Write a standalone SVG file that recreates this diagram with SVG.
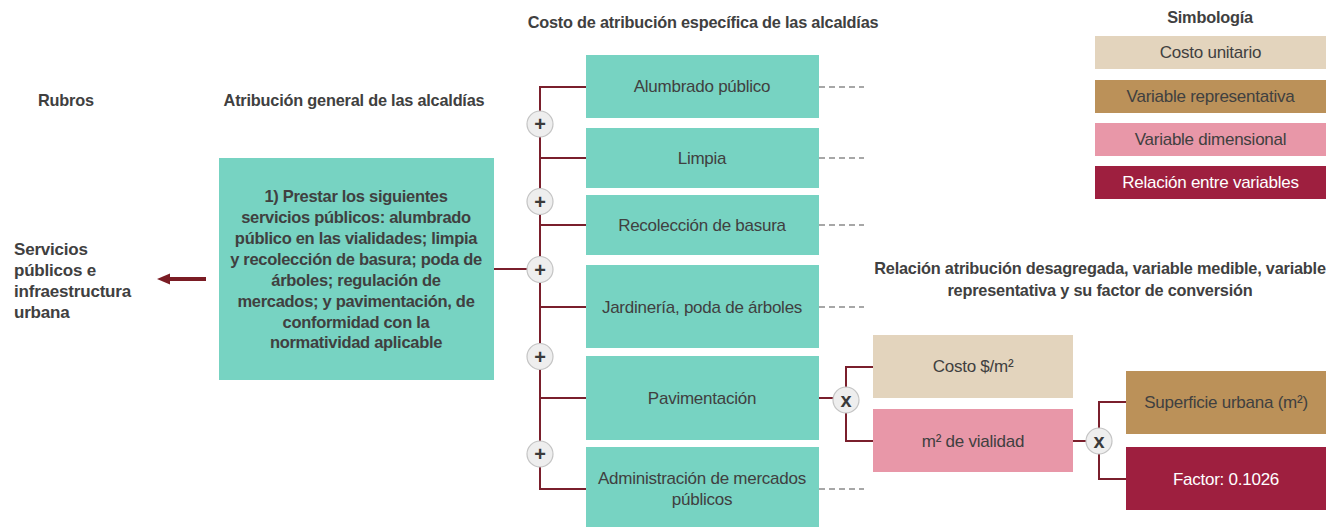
<svg xmlns="http://www.w3.org/2000/svg" width="1336" height="527" viewBox="0 0 1336 527">
<defs>
<style>
text{font-family:"Liberation Sans",Arial,sans-serif;fill:#404040}
.t{font-size:16.3px;font-weight:bold;letter-spacing:-0.2px}
.b{font-size:16.5px;font-weight:bold;letter-spacing:-0.3px}
.s{font-size:17px;font-weight:bold;letter-spacing:-0.2px}
.r{font-size:17px;letter-spacing:-0.25px}
.c{text-anchor:middle}
.w{fill:#ffffff}
.teal{fill:#77d3c2}
.cu{fill:#e3d4bd}
.vr{fill:#bb9159}
.vd{fill:#e897a8}
.rv{fill:#9e1f3f}
.ln{fill:none;stroke:#7a1f2c;stroke-width:2}
.ds{fill:none;stroke:#8a8a8a;stroke-width:1.3;stroke-dasharray:6 4}
.op circle{fill:#eeeeee;stroke:#c4c4c4;stroke-width:1.2}
.op text{font-size:20px;font-weight:bold;text-anchor:middle;fill:#3a3a3a}
</style>
</defs>
<rect width="1336" height="527" fill="#ffffff"/>

<g id="titles">
<text class="t c" x="703" y="28">Costo de atribución específica de las alcaldías</text>
<text class="t" x="38" y="106">Rubros</text>
<text class="t c" x="354" y="106">Atribución general de las alcaldías</text>
<text class="t c" x="1210" y="23">Simbología</text>
<text class="t c" x="1100" y="274">Relación atribución desagregada, variable medible, variable</text>
<text class="t c" x="1100" y="296">representativa y su factor de conversión</text>
</g>

<g id="connectors">
<line x1="206" y1="279" x2="168" y2="279" stroke="#7a1c24" stroke-width="4"/>
<polygon points="157,279 170,273.5 170,284.5" fill="#7a1c24"/>
<line class="ln" x1="494" y1="269" x2="540" y2="269"/>
<polyline class="ln" points="586,87 540,87 540,489 586,489"/>
<line class="ln" x1="540" y1="158" x2="586" y2="158"/>
<line class="ln" x1="540" y1="225" x2="586" y2="225"/>
<line class="ln" x1="540" y1="307" x2="586" y2="307"/>
<line class="ln" x1="540" y1="398" x2="586" y2="398"/>
<line class="ln" x1="819" y1="398" x2="846" y2="398"/>
<polyline class="ln" points="873,367 846,367 846,441 873,441"/>
<line class="ln" x1="1073" y1="441" x2="1099" y2="441"/>
<polyline class="ln" points="1126,402 1099,402 1099,479 1126,479"/>
<line class="ds" x1="819" y1="87" x2="864" y2="87"/>
<line class="ds" x1="819" y1="158" x2="864" y2="158"/>
<line class="ds" x1="819" y1="225" x2="864" y2="225"/>
<line class="ds" x1="819" y1="307" x2="864" y2="307"/>
<line class="ds" x1="819" y1="489" x2="864" y2="489"/>
</g>

<g id="servicios">
<text class="s" x="14" y="255">Servicios</text>
<text class="s" x="14" y="276">públicos e</text>
<text class="s" x="14" y="297">infraestructura</text>
<text class="s" x="14" y="318">urbana</text>
</g>

<g id="atribucion-general">
<rect class="teal" x="219" y="158" width="275" height="222"/>
<text class="b c" x="356" y="202">1) Prestar los siguientes</text>
<text class="b c" x="356" y="223">servicios públicos: alumbrado</text>
<text class="b c" x="356" y="244">público en las vialidades; limpia</text>
<text class="b c" x="356" y="265">y recolección de basura; poda de</text>
<text class="b c" x="356" y="286">árboles; regulación de</text>
<text class="b c" x="356" y="307">mercados; y pavimentación, de</text>
<text class="b c" x="356" y="328">conformidad con la</text>
<text class="b c" x="356" y="348">normatividad aplicable</text>
</g>

<g id="alumbrado">
<rect class="teal" x="586" y="55" width="233" height="63"/>
<text class="r c" x="702" y="92">Alumbrado público</text>
</g>
<g id="limpia">
<rect class="teal" x="586" y="128" width="233" height="60"/>
<text class="r c" x="702" y="163.5">Limpia</text>
</g>
<g id="recoleccion">
<rect class="teal" x="586" y="195" width="233" height="60"/>
<text class="r c" x="702" y="230.5">Recolección de basura</text>
</g>
<g id="jardineria">
<rect class="teal" x="586" y="265" width="233" height="83"/>
<text class="r c" x="702" y="312.5">Jardinería, poda de árboles</text>
</g>
<g id="pavimentacion">
<rect class="teal" x="586" y="356" width="233" height="84"/>
<text class="r c" x="702" y="403.5">Pavimentación</text>
</g>
<g id="mercados">
<rect class="teal" x="586" y="447" width="233" height="80"/>
<text class="r c" x="702" y="483.5">Administración de mercados</text>
<text class="r c" x="702" y="504.5">públicos</text>
</g>

<g id="costo-m2">
<rect class="cu" x="873" y="335" width="200" height="63"/>
<text class="r c" x="973" y="371.5">Costo $/m²</text>
</g>
<g id="m2-vialidad">
<rect class="vd" x="873" y="409" width="200" height="63"/>
<text class="r c" x="973" y="446.5">m² de vialidad</text>
</g>
<g id="superficie">
<rect class="vr" x="1126" y="371" width="200" height="63"/>
<text class="r c" x="1226" y="407.5">Superficie urbana (m²)</text>
</g>
<g id="factor">
<rect class="rv" x="1126" y="447" width="200" height="63"/>
<text class="r c w" x="1226" y="484.5">Factor: 0.1026</text>
</g>

<g id="op-plus-1" class="op"><circle cx="540" cy="124" r="13"/><text x="540" y="131">+</text></g>
<g id="op-plus-2" class="op"><circle cx="540" cy="201.5" r="13"/><text x="540" y="208.5">+</text></g>
<g id="op-plus-3" class="op"><circle cx="540" cy="269.5" r="13"/><text x="540" y="276.5">+</text></g>
<g id="op-plus-4" class="op"><circle cx="540" cy="356.5" r="13"/><text x="540" y="363.5">+</text></g>
<g id="op-plus-5" class="op"><circle cx="540" cy="454" r="13"/><text x="540" y="461">+</text></g>
<g id="op-x-1" class="op"><circle cx="846" cy="400" r="13"/><text x="846" y="406.5">x</text></g>
<g id="op-x-2" class="op"><circle cx="1099" cy="441" r="13"/><text x="1099" y="447.5">x</text></g>

<g id="legend">
<g id="legend-costo"><rect class="cu" x="1095" y="36" width="231" height="33"/><text class="r c" x="1210.5" y="58">Costo unitario</text></g>
<g id="legend-representativa"><rect class="vr" x="1095" y="80" width="231" height="33"/><text class="r c" x="1210.5" y="102">Variable representativa</text></g>
<g id="legend-dimensional"><rect class="vd" x="1095" y="123" width="231" height="33"/><text class="r c" x="1210.5" y="145">Variable dimensional</text></g>
<g id="legend-relacion"><rect class="rv" x="1095" y="166" width="231" height="33"/><text class="r c w" x="1210.5" y="188">Relación entre variables</text></g>
</g>
</svg>
